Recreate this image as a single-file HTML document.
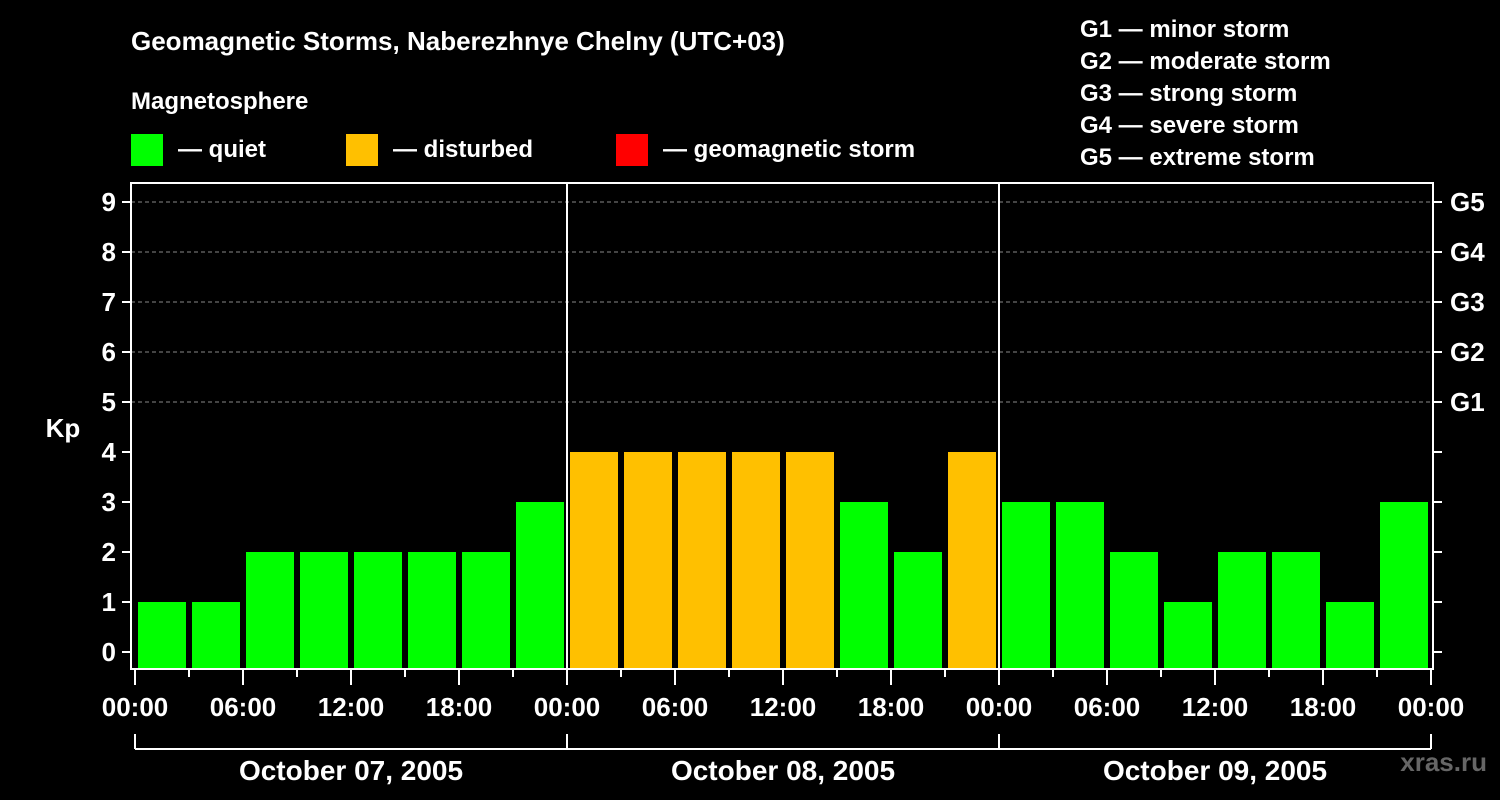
<!DOCTYPE html>
<html><head><meta charset="utf-8"><style>
html,body{margin:0;padding:0;background:#000;}
svg{display:block;font-family:"Liberation Sans",Arial,sans-serif;font-weight:bold;}
</style></head><body>
<svg id="chart" width="1500" height="800" viewBox="0 0 1500 800">
<text x="131" y="50" fill="#fff" font-size="26">Geomagnetic Storms, Naberezhnye Chelny (UTC+03)</text>
<text x="131" y="109" fill="#fff" font-size="24">Magnetosphere</text>
<g><rect x="131" y="134" width="32" height="32" fill="#00ff00"/><text x="178" y="157" fill="#fff" font-size="24">— quiet</text></g>
<g><rect x="346" y="134" width="32" height="32" fill="#ffc000"/><text x="393" y="157" fill="#fff" font-size="24">— disturbed</text></g>
<g><rect x="616" y="134" width="32" height="32" fill="#ff0000"/><text x="663" y="157" fill="#fff" font-size="24">— geomagnetic storm</text></g>
<g fill="#fff" font-size="24">
<text x="1080" y="37">G1 — minor storm</text>
<text x="1080" y="69">G2 — moderate storm</text>
<text x="1080" y="101">G3 — strong storm</text>
<text x="1080" y="133">G4 — severe storm</text>
<text x="1080" y="165">G5 — extreme storm</text>
</g>
<text x="63" y="437" fill="#fff" font-size="26" text-anchor="middle">Kp</text>
<text x="1487" y="771" fill="#666" font-size="26" text-anchor="end">xras.ru</text>
<g id="grid"></g><g id="bars"></g><g id="axes"></g>
</svg>
<script>
const kpValues = [1,1,2,2,2,2,2,3, 4,4,4,4,4,3,2,4, 3,3,2,1,2,2,1,3];
const dayLabels = ["October 07, 2005","October 08, 2005","October 09, 2005"];
const yTicks = [0,1,2,3,4,5,6,7,8,9];
const gLabels = ["G1","G2","G3","G4","G5"];
const hourLabels = ["00:00","06:00","12:00","18:00"];

const NS="http://www.w3.org/2000/svg";
const X0=135, DAYW=432, SLOT=54;
const y=v=>652-v*50;
const xSlot=i=>X0+i*SLOT;
function mk(tag,attrs,parent){const e=document.createElementNS(NS,tag);for(const k in attrs)e.setAttribute(k,attrs[k]);parent.appendChild(e);return e;}
const grid=document.getElementById('grid'),bars=document.getElementById('bars'),axes=document.getElementById('axes');

yTicks.forEach(v=>{
  if(v>=5){const l=mk('line',{x1:131,x2:1433,y1:y(v),y2:y(v),stroke:'#888','stroke-dasharray':'4,3','stroke-width':1},grid);
    
    }
  mk('line',{x1:122,x2:131,y1:y(v),y2:y(v),stroke:'#fff','stroke-width':2},axes);
  mk('line',{x1:1433,x2:1442,y1:y(v),y2:y(v),stroke:'#fff','stroke-width':2},axes);
  const t=mk('text',{x:116,y:y(v)+9,fill:'#fff','font-size':26,'text-anchor':'end'},axes);t.textContent=v;
  
  
});
gLabels.forEach((g,i)=>{
  const t=mk('text',{x:1450,y:y(5+i)+9,fill:'#fff','font-size':26},axes);t.textContent=g;
  
  
});
kpValues.forEach((v,i)=>{
  const r=mk('rect',{x:xSlot(i)+3,y:y(v),width:48,height:668-y(v),fill:v>=5?'#ff0000':(v>=4?'#ffc000':'#00ff00')},bars);
  
  
});
mk('rect',{x:131,y:183,width:1302,height:486,fill:'none',stroke:'#fff','stroke-width':2},axes);
for(let d=1;d<dayLabels.length;d++) mk('line',{x1:X0+d*DAYW,x2:X0+d*DAYW,y1:183,y2:669,stroke:'#fff','stroke-width':2},axes);
for(let i=0;i<=kpValues.length;i++){
  const x=xSlot(i), major=i%2===0;
  mk('line',{x1:x,x2:x,y1:669,y2:major?685:677,stroke:'#fff','stroke-width':2},axes);
  if(major){const t=mk('text',{x:x,y:716,fill:'#fff','font-size':26,'text-anchor':'middle'},axes);
    t.textContent=hourLabels[(i/2)%4];
    
    }
}
mk('line',{x1:X0,x2:X0+dayLabels.length*DAYW,y1:749,y2:749,stroke:'#fff','stroke-width':2},axes);
for(let d=0;d<=dayLabels.length;d++) mk('line',{x1:X0+d*DAYW,x2:X0+d*DAYW,y1:734,y2:749,stroke:'#fff','stroke-width':2},axes);
dayLabels.forEach((s,d)=>{
  const t=mk('text',{x:X0+d*DAYW+DAYW/2,y:780,fill:'#fff','font-size':28,'text-anchor':'middle'},axes);t.textContent=s;
  
  
});
</script>
</body></html>
